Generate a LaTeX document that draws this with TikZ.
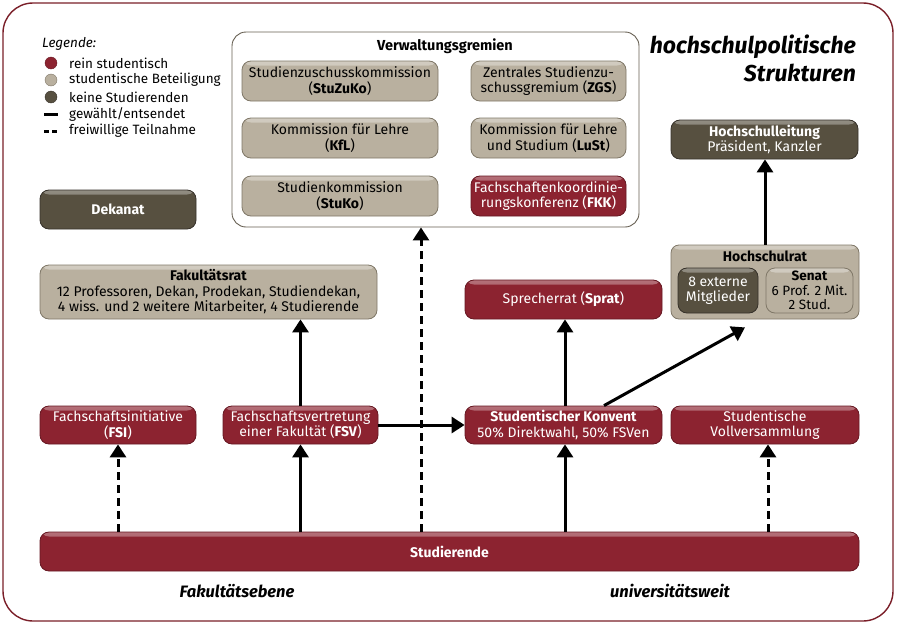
\documentclass[tikz,border=0pt]{standalone}
\usepackage{fontspec}
\setmainfont{Fira Sans}
\usetikzlibrary{arrows.meta,calc,shadings}
\definecolor{cred}{HTML}{8C2330}
\definecolor{credD}{HTML}{661822}
\definecolor{ctan}{HTML}{B9B09F}
\definecolor{ctanD}{HTML}{7F7767}
\definecolor{cdark}{HTML}{575040}
\definecolor{cdarkD}{HTML}{36312A}
\definecolor{cframe}{HTML}{7A1E28}
\begin{document}
\begin{tikzpicture}[x=1pt,y=-1pt,
  gloss/.style={path picture={\shade[top color=#1!65!white, bottom color=#1]
     (path picture bounding box.north west) rectangle ([yshift=-4.5pt]path picture bounding box.north east);}},
  basebox/.style={rounded corners=9pt, line width=0.8pt, align=center, inner sep=1pt,
     font=\fontsize{14}{15.5}\selectfont},
  redbox/.style={basebox, fill=cred, draw=credD, text=white, gloss=cred},
  tanbox/.style={basebox, fill=ctan, draw=ctanD, text=black, gloss=ctan},
  darkbox/.style={basebox, fill=cdark, draw=cdarkD, text=white, gloss=cdark},
  arr/.style={line width=3pt, -{Triangle[length=13pt,width=16pt]}},
  dsh/.style={dash pattern=on 8pt off 5pt},
  legtext/.style={anchor=west, font=\fontsize{13.5}{15}\selectfont, inner sep=0pt},
  sz/.style n args={2}{minimum width=#1pt, minimum height=#2pt}
]
\useasboundingbox (0,0) rectangle (897,624);
\draw[cframe, line width=1.4pt, rounded corners=30pt] (3,3) rectangle (893,621);

% legend
\node[legtext, font=\fontsize{13.5}{15}\selectfont\itshape] (leg) at (42,44) {Legende:};
\fill[cred, draw=credD] (51,63) circle (6pt);
\fill[ctan, draw=ctanD] (51,80) circle (6pt);
\fill[cdark, draw=cdarkD] (51,97) circle (6pt);
\draw[line width=3pt] (44,114) -- (58,114);
\draw[line width=3pt, dash pattern=on 5pt off 3pt] (44,131) -- (58,131);
\node[legtext] (l1) at (69,63) {rein studentisch};
\node[legtext] (l2) at (69,80) {studentische Beteiligung};
\node[legtext] (l3) at (69,97) {keine Studierenden};
\node[legtext] (l4) at (69,114) {gewählt/entsendet};
\node[legtext] (l5) at (69,131) {freiwillige Teilnahme};

% title
\node[anchor=north east, align=right, inner sep=0pt,
  font=\fontsize{23}{28}\selectfont\bfseries\itshape] (title) at (856,35)
  {hochschulpolitische\\Strukturen};

% Dekanat
\node[darkbox, sz={156}{39}, font=\fontsize{14}{15.5}\selectfont\bfseries] (dek) at (118,209.5) {Dekanat};

% Verwaltungsgremien
\node[draw=ctanD!80!black, line width=0.9pt, rounded corners=14pt, sz={407}{195}, fill=white] (verw) at (435.5,129.5) {};
\node[font=\fontsize{14.5}{16}\selectfont\bfseries, inner sep=0pt] (verwt) at (445,46) {Verwaltungsgremien};
\node[tanbox, sz={196}{40}] (stuzuko) at (340,81) {Studienzuschusskommission\\(\textbf{StuZuKo})};
\node[tanbox, sz={196}{40}] (kfl) at (340,138) {Kommission für Lehre\\(\textbf{KfL})};
\node[tanbox, sz={196}{40}] (stuko) at (340,196) {Studienkommission\\(\textbf{StuKo})};
\node[tanbox, sz={155}{40}] (zgs) at (548.5,81) {Zentrales Studienzu-\\schussgremium (\textbf{ZGS})};
\node[tanbox, sz={155}{40}] (lust) at (548.5,138) {Kommission für Lehre\\und Studium (\textbf{LuSt})};
\node[redbox, sz={155}{40}] (fkk) at (548.5,196) {Fachschaftenkoordinie-\\rungskonferenz (\textbf{FKK})};

% Hochschulleitung
\node[darkbox, sz={187}{39}] (hl) at (764.5,139.5) {\textbf{Hochschulleitung}\\Präsident, Kanzler};

% Hochschulrat
\node[tanbox, sz={188}{74}, rounded corners=8pt] (hr) at (765,282) {};
\node[font=\fontsize{14}{15.5}\selectfont\bfseries, inner sep=0pt] (hrt) at (765,256) {Hochschulrat};
\node[darkbox, sz={80}{45}] (ext) at (718,290.5) {8 externe\\Mitglieder};
\node[tanbox, sz={87}{45}, font=\fontsize{13.5}{14.5}\selectfont] (senat) at (809.5,290.5) {\textbf{Senat}\\6 Prof. 2 Mit.\\2 Stud.};

% Fakultaetsrat
\node[tanbox, sz={337}{54}] (fr) at (208.5,292) {\textbf{Fakultätsrat}\\12 Professoren, Dekan, Prodekan, Studiendekan,\\4 wiss. und 2 weitere Mitarbeiter, 4 Studierende};

% Sprecherrat
\node[redbox, sz={197}{39}] (sprat) at (563.5,299.5) {Sprecherrat (\textbf{Sprat})};

% row
\node[redbox, sz={156}{38}] (fsi) at (118,425) {Fachschaftsinitiative\\(\textbf{FSI})};
\node[redbox, sz={155}{38}] (fsv) at (300.5,425) {Fachschaftsvertretung\\einer Fakultät (\textbf{FSV})};
\node[redbox, sz={197}{38}] (konv) at (563.5,425) {\textbf{Studentischer Konvent}\\50\% Direktwahl, 50\% FSVen};
\node[redbox, sz={188}{38}] (vv) at (765,425) {Studentische\\Vollversammlung};

% Studierende
\node[redbox, sz={819}{39}, font=\fontsize{14}{15.5}\selectfont\bfseries] (stud) at (449.5,551.5) {Studierende};

\node[font=\fontsize{16.5}{18}\selectfont\bfseries\itshape, inner sep=0pt] (fe) at (237,591) {Fakultätsebene};
\node[font=\fontsize{16.5}{18}\selectfont\bfseries\itshape, inner sep=0pt] (uw) at (670,591) {universitätsweit};

% connectors
\coordinate (xv) at (421,0);
\coordinate (xk) at (565,0);
\coordinate (xvv) at (768,0);
\coordinate (xd) at (604,0);
\draw[arr, dsh] (stud.north -| fsi.south) -- (fsi.south);
\draw[arr] (stud.north -| fsv.south) -- (fsv.south);
\draw[arr, dsh] (stud.north -| xv) -- (verw.south -| xv);
\draw[arr] (stud.north -| xk) -- (konv.south -| xk);
\draw[arr, dsh] (stud.north -| xvv) -- (vv.south -| xvv);
\draw[arr] (fsv.east) -- (konv.west);
\draw[arr] (fsv.north) -- (fsv.north |- fr.south);
\draw[arr] (konv.north -| xk) -- (sprat.south -| xk);
\draw[arr] (konv.north -| xd) -- ($(hr.south)+(-20,8)$);
\draw[arr] (hr.north) -- (hl.south -| hr.north);
\end{tikzpicture}
\end{document}
